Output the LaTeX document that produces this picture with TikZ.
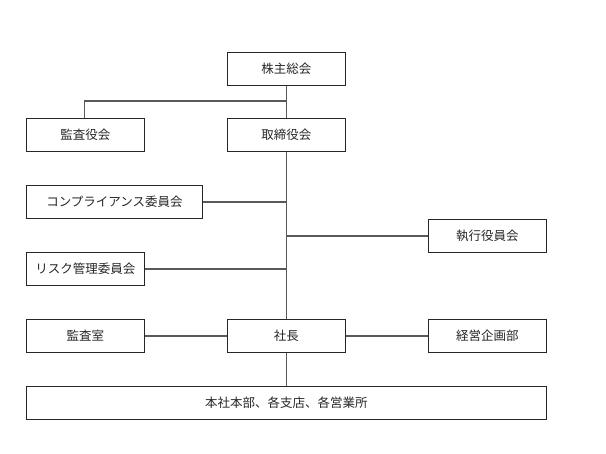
\documentclass[tikz,border=0pt]{standalone}
\usepackage{fontspec}
\setmainfont{Noto Sans CJK JP}
\begin{document}
\begin{tikzpicture}[x=1pt,y=-1pt,
  box/.style={draw=black!85,line width=0.9pt,minimum height=33pt,inner sep=0pt,font=\fontsize{12.5}{14}\selectfont,text=black!85,anchor=north west},
  conn/.style={draw=black!65,line width=1.3pt}]
\useasboundingbox (0,0) rectangle (606,454);
\node[box,minimum width=118pt] (sh) at (227,52) {株主総会};
\node[box,minimum width=118pt] (ka) at (26,118) {監査役会};
\node[box,minimum width=118pt] (tr) at (227,118) {取締役会};
\node[box,minimum width=176pt] (co) at (26,185) {コンプライアンス委員会};
\node[box,minimum width=118pt] (ri) at (26,252) {リスク管理委員会};
\node[box,minimum width=118pt] (sk) at (428,219) {執行役員会};
\node[box,minimum width=118pt] (ks) at (26,319) {監査室};
\node[box,minimum width=118pt] (sc) at (227,319) {社長};
\node[box,minimum width=118pt] (kk) at (428,319) {経営企画部};
\node[box,minimum width=520pt] (hq) at (26,386) {本社本部、各支店、各営業所};
\coordinate (br) at (286,101);
\coordinate (brl) at (84.5,101);
\draw[conn] (sh.south) -- (tr.north);
\draw[conn] (br) -- (brl) -- (ka.north -| brl);
\draw[conn] (tr.south) -- (sc.north);
\draw[conn] (co.east) -- (co.east -| tr.south);
\draw[conn] (ri.east) -- (ri.east -| tr.south);
\draw[conn] (sk.west) -- (sk.west -| tr.south);
\draw[conn] (ks.east) -- (sc.west);
\draw[conn] (sc.east) -- (kk.west);
\draw[conn] (sc.south) -- (sc.south |- hq.north);
\end{tikzpicture}
\end{document}
